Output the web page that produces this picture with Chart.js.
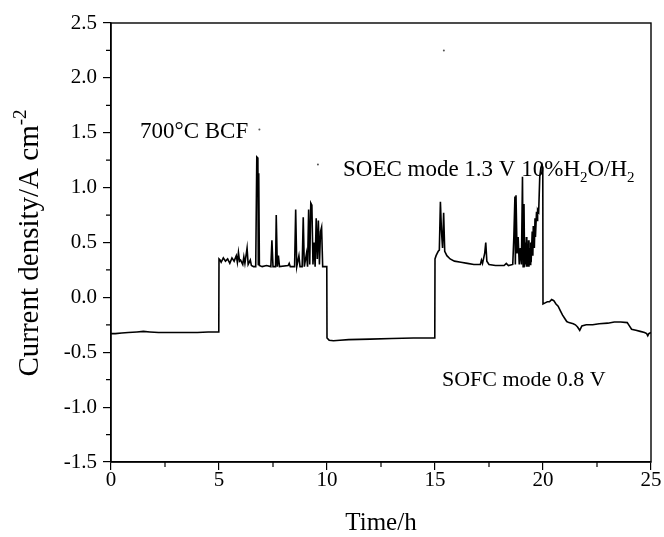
<!DOCTYPE html>
<html>
<head>
<meta charset="utf-8">
<script src="https://cdn.jsdelivr.net/npm/chart.js@4.4.1/dist/chart.umd.min.js"></script>
<style>
  html, body { margin: 0; padding: 0; background: #fff; }
  #wrap { width: 664px; height: 537px; }
</style>
</head>
<body>
<div id="wrap"><canvas id="myChart"></canvas></div>
<script>
// time in hours, current density in A cm-2
var timeH = [
  0, 0.2, 0.5, 0.8, 1.2, 1.5, 1.8, 2.2, 2.6, 3.0, 3.5, 4.0, 4.5, 4.99,
  5.0, 5.05, 5.1, 5.2, 5.3, 5.4, 5.5, 5.6, 5.7, 5.8, 5.85, 5.9, 5.95, 6.0, 6.1, 6.15, 6.2, 6.3, 6.35, 6.45, 6.5, 6.6, 6.7,
  6.75, 6.8, 6.82, 6.84, 6.87, 7.0, 7.2, 7.4, 7.45, 7.5, 7.62, 7.65, 7.7, 7.75, 7.8, 8.2, 8.25, 8.3, 8.5, 8.55, 8.6,
  8.7, 8.75, 8.85, 8.9, 8.95, 9.05, 9.1, 9.15, 9.2, 9.25, 9.3, 9.35, 9.4, 9.45, 9.5, 9.55, 9.6, 9.65, 9.7, 9.75, 9.8, 9.99,
  10.0, 10.1, 10.3, 10.6, 11, 12, 13, 14, 14.99,
  15.0, 15.05, 15.1, 15.15, 15.2, 15.25, 15.3, 15.35, 15.4, 15.45, 15.55, 15.7, 15.9, 16.2, 16.5, 16.8, 17.1, 17.15, 17.2,
  17.3, 17.35, 17.4, 17.5, 17.8, 18.0, 18.2, 18.3, 18.4, 18.6, 18.65, 18.7, 18.72, 18.75, 18.8, 18.85, 18.9, 18.95, 19.0,
  19.05, 19.08, 19.12, 19.15, 19.18, 19.2, 19.23, 19.25, 19.28, 19.3, 19.33, 19.35, 19.38, 19.4, 19.43, 19.45, 19.5,
  19.53, 19.55, 19.6, 19.63, 19.65, 19.7, 19.73, 19.75, 19.8, 19.85, 19.9, 19.95, 19.99,
  20.0, 20.1, 20.2, 20.3, 20.4, 20.5, 20.6, 20.7, 20.8, 20.9, 21.0, 21.1, 21.2, 21.4, 21.5, 21.6, 21.7, 21.8, 22.0, 22.3,
  22.6, 23.0, 23.3, 23.6, 23.9, 24.0, 24.1, 24.3, 24.5, 24.7, 24.8, 24.85, 24.9, 25.0
];
var currentDensity = [
  -0.33, -0.33, -0.325, -0.32, -0.315, -0.31, -0.315, -0.32, -0.32, -0.32, -0.32, -0.32, -0.315, -0.315,
  0.35, 0.34, 0.32, 0.36, 0.33, 0.35, 0.31, 0.36, 0.33, 0.38, 0.32, 0.41, 0.33, 0.34, 0.30, 0.37, 0.31, 0.45, 0.30, 0.34, 0.29, 0.28, 0.28,
  1.28, 1.27, 0.30, 1.13, 0.29, 0.28, 0.29, 0.28, 0.52, 0.28, 0.28, 0.75, 0.28, 0.38, 0.28, 0.29, 0.31, 0.28, 0.28, 0.80, 0.28,
  0.38, 0.28, 0.28, 0.73, 0.28, 0.40, 0.28, 0.80, 0.30, 0.86, 0.84, 0.30, 0.50, 0.28, 0.72, 0.35, 0.70, 0.30, 0.60, 0.64, 0.28, 0.28,
  -0.37, -0.39, -0.395, -0.39, -0.385, -0.38, -0.375, -0.37, -0.37,
  0.35, 0.38, 0.40, 0.42, 0.43, 0.87, 0.60, 0.45, 0.77, 0.42, 0.38, 0.35, 0.33, 0.32, 0.31, 0.30, 0.30, 0.34, 0.31,
  0.40, 0.50, 0.33, 0.30, 0.29, 0.29, 0.29, 0.31, 0.29, 0.30, 0.55, 0.92, 0.30, 0.93, 0.40, 0.55, 0.30, 0.45, 0.30,
  1.10, 0.28, 0.85, 0.28, 0.50, 0.30, 0.55, 0.28, 0.48, 0.28, 0.52, 0.28, 0.45, 0.30, 0.50, 0.32, 0.60,
  0.38, 0.65, 0.45, 0.72, 0.55, 0.78, 0.70, 0.80, 0.78, 1.10, 1.18, 1.21, 1.18,
  -0.06, -0.05, -0.04, -0.04, -0.02, -0.03, -0.06, -0.08, -0.12, -0.16, -0.19, -0.22, -0.23, -0.24, -0.25, -0.27, -0.30, -0.26, -0.25, -0.25,
  -0.24, -0.235, -0.225, -0.225, -0.23, -0.26, -0.29, -0.30, -0.31, -0.32, -0.33, -0.35, -0.33, -0.32
];
// a few stray dots in the original scan
var strayTime = [6.87, 9.58, 15.41];
var strayValue = [1.53, 1.21, 2.25];

var xTicks = [0, 5, 10, 15, 20, 25];
var xMinor = [2.5, 7.5, 12.5, 17.5, 22.5];
var yTicks = [-1.5, -1.0, -0.5, 0.0, 0.5, 1.0, 1.5, 2.0, 2.5];
var yMinor = [-1.25, -0.75, -0.25, 0.25, 0.75, 1.25, 1.75, 2.25];

var serif = "'Liberation Serif', 'Times New Roman', serif";

function drawParts(c, parts, x, y, size) {
  var cx = x;
  parts.forEach(function(p) {
    var fs = p.sub || p.sup ? Math.round(size * 0.65) : size;
    c.font = fs + 'px ' + serif;
    var dy = p.sub ? size * 0.3 : (p.sup ? -size * 0.4 : 0);
    c.fillText(p.t, cx, y + dy);
    cx += c.measureText(p.t).width;
  });
  return cx - x;
}

function measureParts(c, parts, size) {
  var w = 0;
  parts.forEach(function(p) {
    var fs = p.sub || p.sup ? Math.round(size * 0.65) : size;
    c.font = fs + 'px ' + serif;
    w += c.measureText(p.t).width;
  });
  return w;
}

var notes = [
  { x: 1.34, y: 1.45, size: 23, parts: [{ t: '700\u00B0C BCF' }] },
  { x: 10.74, y: 1.11, size: 23, parts: [{ t: 'SOEC mode 1.3 V 10%H' }, { t: '2', sub: true }, { t: 'O/H' }, { t: '2', sub: true }] },
  { x: 15.32, y: -0.81, size: 22, parts: [{ t: 'SOFC mode 0.8 V' }] }
];

var decorations = {
  id: 'decorations',
  afterDraw: function(chart) {
    var c = chart.ctx, a = chart.chartArea;
    var xs = chart.scales.x, ys = chart.scales.y;
    c.save();
    c.strokeStyle = '#000';
    c.lineWidth = 1.4;
    c.strokeRect(a.left, a.top, a.right - a.left, a.bottom - a.top);

    // minor ticks
    c.lineWidth = 1.2;
    c.beginPath();
    xMinor.forEach(function(v) {
      var px = xs.getPixelForValue(v);
      c.moveTo(px, a.bottom);
      c.lineTo(px, a.bottom + 5);
    });
    yMinor.forEach(function(v) {
      var py = ys.getPixelForValue(v);
      c.moveTo(a.left, py);
      c.lineTo(a.left - 5, py);
    });
    c.stroke();

    c.fillStyle = '#000';
    c.textBaseline = 'alphabetic';
    c.textAlign = 'left';
    notes.forEach(function(n) {
      drawParts(c, n.parts, xs.getPixelForValue(n.x), ys.getPixelForValue(n.y), n.size);
    });

    // axis titles
    c.textAlign = 'center';
    c.font = '25px ' + serif;
    c.fillText('Time/h', (a.left + a.right) / 2, 530);

    var yTitle = [{ t: 'Current density/A cm' }, { t: '-2', sup: true }];
    c.translate(38, 243);
    c.rotate(-Math.PI / 2);
    c.textAlign = 'left';
    var w = measureParts(c, yTitle, 29);
    drawParts(c, yTitle, -w / 2, 0, 29);
    c.restore();
  }
};

var ctx = document.getElementById('myChart').getContext('2d');

var myChart = new Chart(ctx, {
  type: 'line',
  data: {
    datasets: [{
      label: 'Current density',
      data: timeH.map(function(t, i) { return { x: t, y: currentDensity[i] }; }),
      borderColor: '#000',
      borderWidth: 1.6,
      pointRadius: 0,
      tension: 0,
      fill: false
    }, {
      label: 'stray',
      data: strayTime.map(function(t, i) { return { x: t, y: strayValue[i] }; }),
      showLine: false,
      pointRadius: 1,
      pointBorderWidth: 0,
      backgroundColor: '#555',
      borderColor: '#555'
    }]
  },
  options: {
    responsive: true,
    maintainAspectRatio: false,
    animation: false,
    layout: { padding: { top: 23, right: 13, left: 0, bottom: 0 } },
    plugins: {
      legend: { display: false },
      tooltip: { enabled: false }
    },
    scales: {
      x: {
        type: 'linear',
        min: 0,
        max: 25,
        afterBuildTicks: function(scale) {
          scale.ticks = xTicks.map(function(v) { return { value: v }; });
        },
        afterFit: function(scale) { scale.height = 75; },
        grid: { drawOnChartArea: false, drawTicks: true, tickLength: 8, color: '#000', lineWidth: 1.2 },
        border: { color: '#000', width: 1.4 },
        ticks: {
          color: '#000',
          padding: -2,
          maxRotation: 0,
          font: { family: serif, size: 21 },
          callback: function(v) { return String(v); }
        }
      },
      y: {
        min: -1.5,
        max: 2.5,
        afterBuildTicks: function(scale) {
          scale.ticks = yTicks.map(function(v) { return { value: v }; });
        },
        afterFit: function(scale) { scale.width = 111; },
        grid: { drawOnChartArea: false, drawTicks: true, tickLength: 8, color: '#000', lineWidth: 1.2 },
        border: { color: '#000', width: 1.4 },
        ticks: {
          color: '#000',
          padding: 6,
          font: { family: serif, size: 21 },
          callback: function(v) { return v.toFixed(1); }
        }
      }
    }
  },
  plugins: [decorations]
});
</script>
</body>
</html>
